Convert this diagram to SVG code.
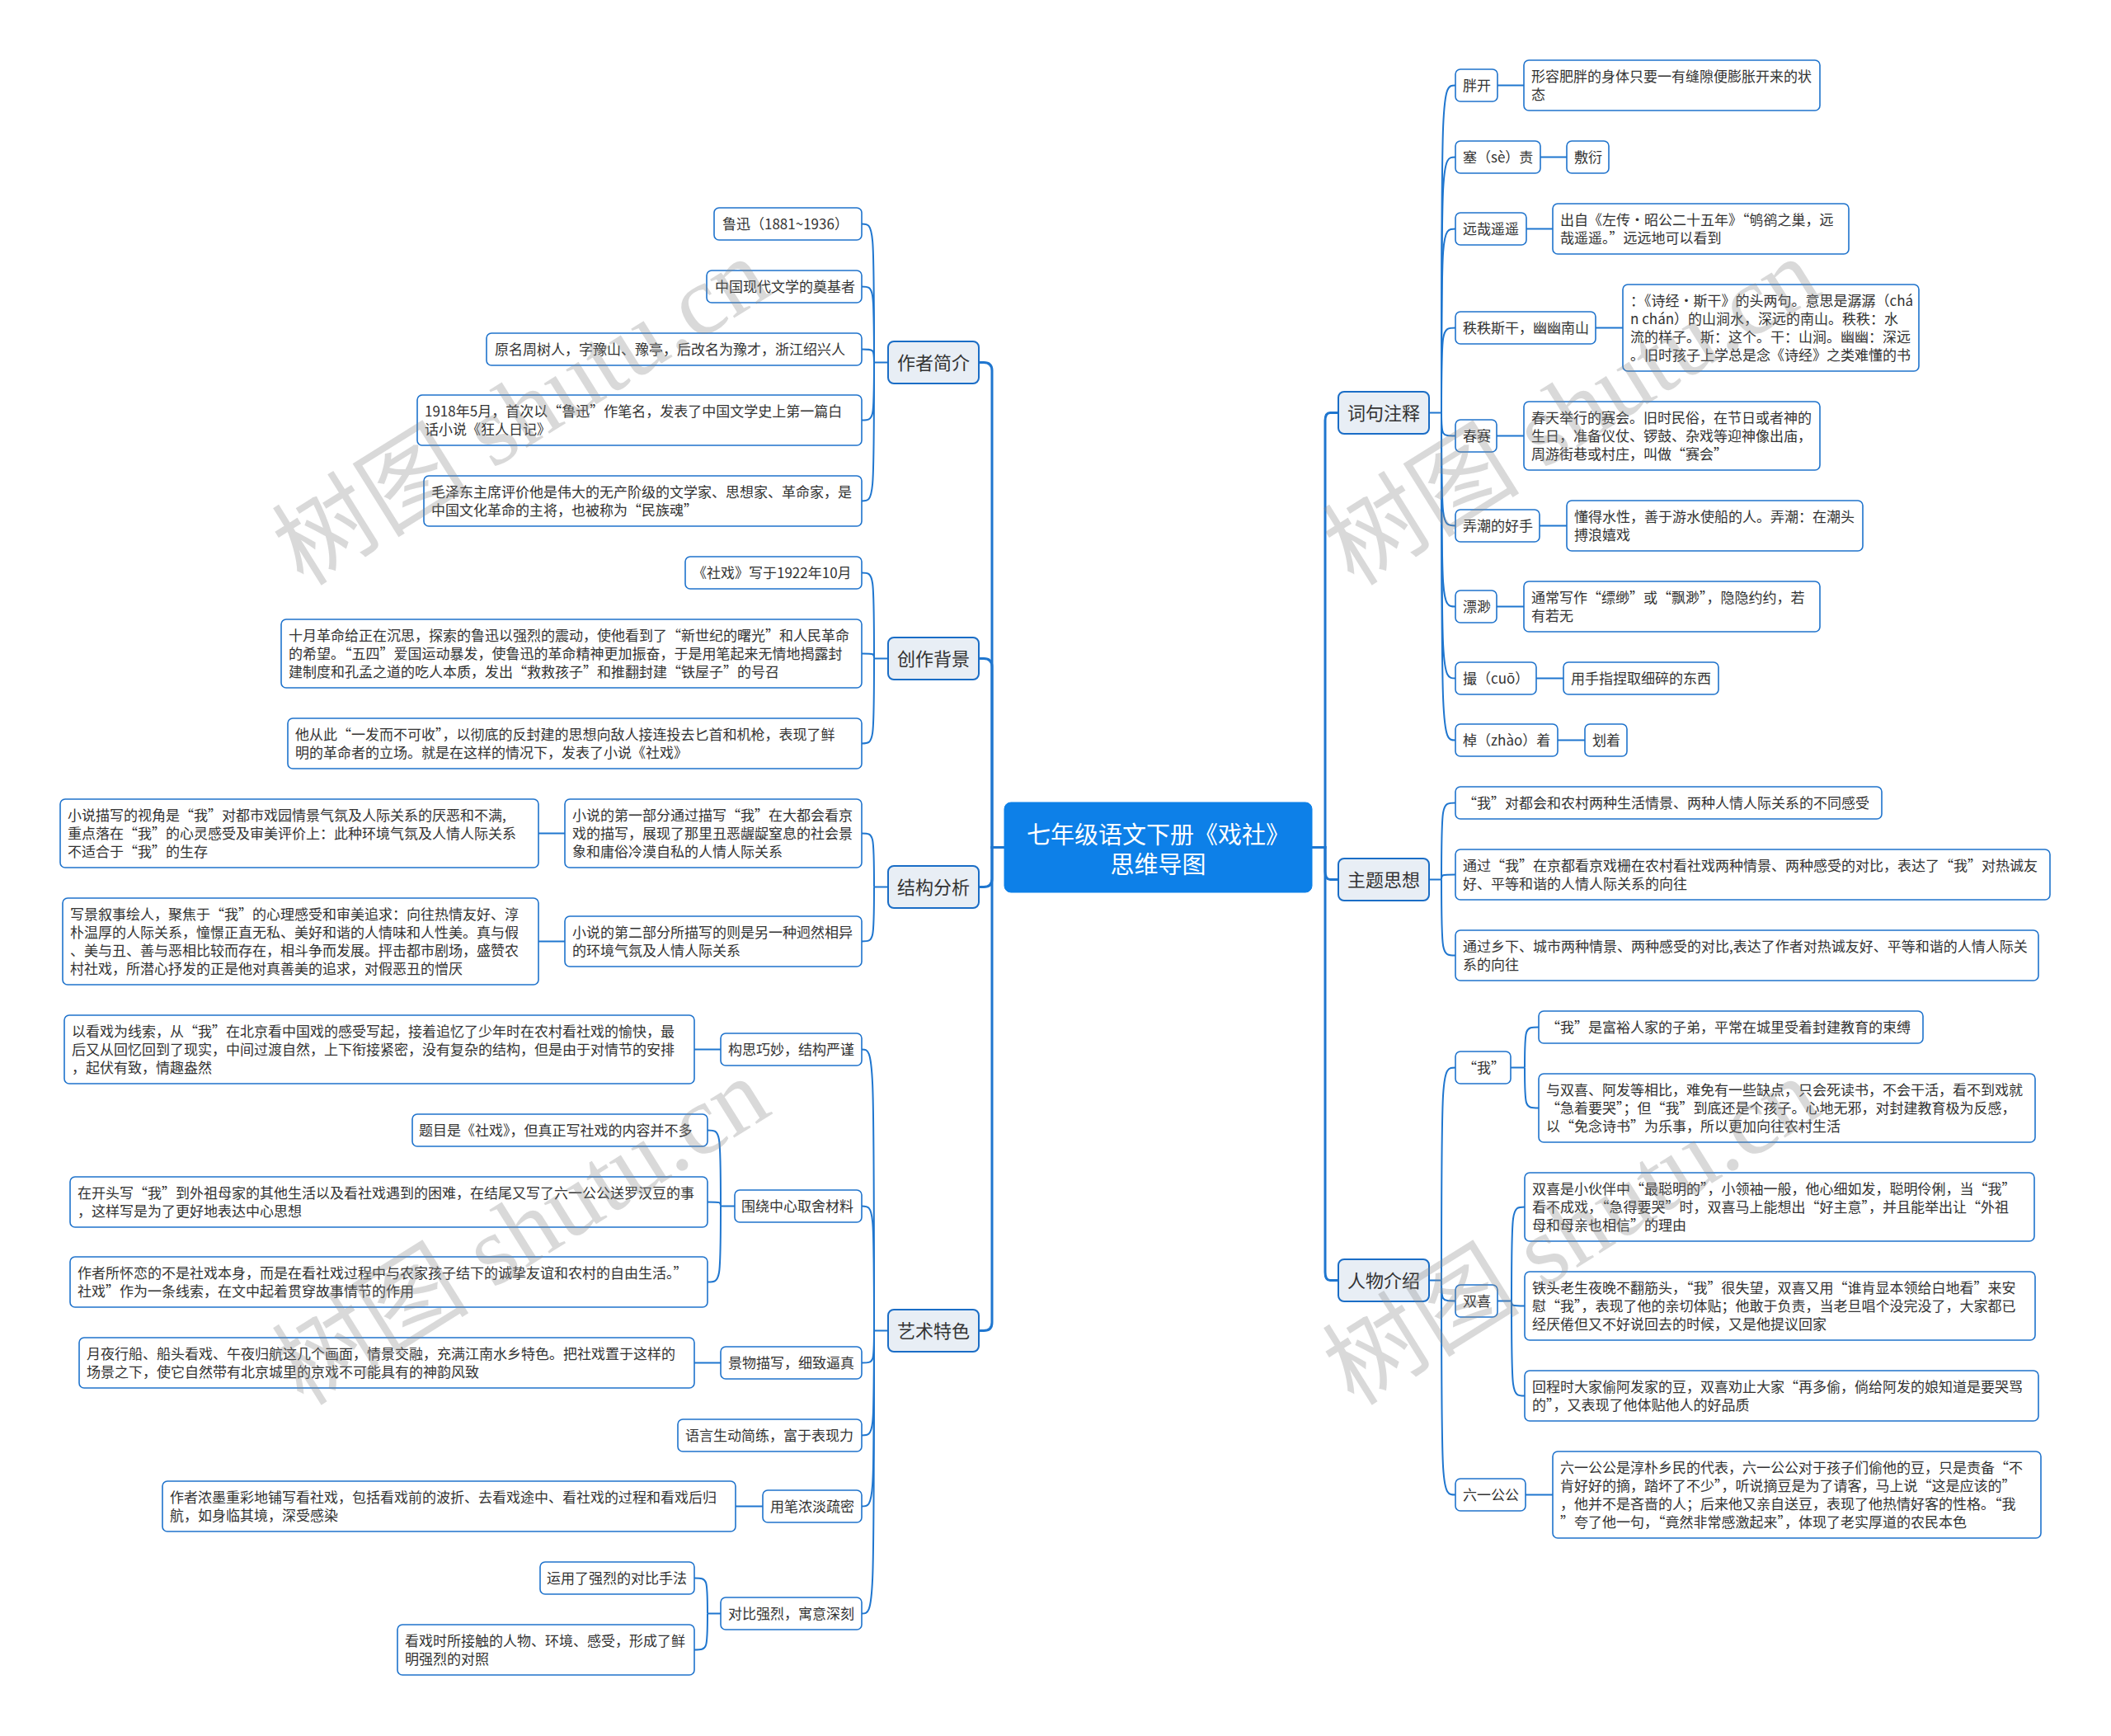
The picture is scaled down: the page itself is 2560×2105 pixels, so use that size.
<svg xmlns="http://www.w3.org/2000/svg" width="2560" height="2105" viewBox="0 0 2560 2105">
<style>
.m{fill:#E8EEF5;stroke:#1A6DC6;stroke-width:2}
.c{fill:#fff;stroke:#1F73CC;stroke-width:1.6}
.ctr{fill:#0D80E8;stroke:#0D80E8;stroke-width:1}
.t{font-family:"Noto Sans CJK SC","Noto Sans",sans-serif;font-size:17px;fill:#333}
.tm{font-family:"Noto Sans CJK SC","Noto Sans",sans-serif;font-size:22px;fill:#333;text-anchor:middle}
.tc{font-family:"Noto Sans CJK SC","Noto Sans",sans-serif;font-size:29px;fill:#fff;text-anchor:middle}
.k{fill:none;stroke:#1F76CF;stroke-width:2}
.K{fill:none;stroke:#1F76CF;stroke-width:3}
.wm{font-family:"Liberation Serif","Noto Sans CJK SC",serif;font-size:120px;fill:#888;fill-opacity:0.32}
</style>
<rect x="0" y="0" width="2560" height="2105" fill="#fff"/>
<g id="connectors">
<path class="K" d="M1218,1027.5 H1203 V449.5 Q1203,439.5 1193,439.5 H1187"/>
<path class="K" d="M1218,1027.5 H1203 V808.5 Q1203,798.5 1193,798.5 H1187"/>
<path class="K" d="M1218,1027.5 H1203 V1065.5 Q1203,1075.5 1193,1075.5 H1187"/>
<path class="K" d="M1218,1027.5 H1203 V1603.5 Q1203,1613.5 1193,1613.5 H1187"/>
<path class="K" d="M1591,1027.5 H1607 V510.5 Q1607,500.5 1613,500.5 H1623"/>
<path class="K" d="M1591,1027.5 H1607 V1056.5 Q1607,1066.5 1613,1066.5 H1623"/>
<path class="K" d="M1591,1027.5 H1607 V1542.5 Q1607,1552.5 1613,1552.5 H1623"/>
<path class="k" d="M1077,439.5 H1060"/>
<path class="k" d="M1060,439.5 C1060,271.5 1060,271.5 1045,271.5"/>
<path class="k" d="M1060,439.5 C1060,347.5 1060,347.5 1045,347.5"/>
<path class="k" d="M1060,439.5 C1060,423.5 1060,423.5 1045,423.5"/>
<path class="k" d="M1060,439.5 C1060,509.5 1060,509.5 1045,509.5"/>
<path class="k" d="M1060,439.5 C1060,607.5 1060,607.5 1045,607.5"/>
<path class="k" d="M1077,798.5 H1060"/>
<path class="k" d="M1060,798.5 C1060,694.5 1060,694.5 1045,694.5"/>
<path class="k" d="M1060,798.5 C1060,792.5 1060,792.5 1045,792.5"/>
<path class="k" d="M1060,798.5 C1060,901.5 1060,901.5 1045,901.5"/>
<path class="k" d="M1077,1075.5 H1060"/>
<path class="k" d="M1060,1075.5 C1060,1010.5 1060,1010.5 1045,1010.5"/>
<path class="k" d="M1060,1075.5 C1060,1141.5 1060,1141.5 1045,1141.5"/>
<path class="k" d="M685,1010.5 H653"/>
<path class="k" d="M685,1141.5 H653"/>
<path class="k" d="M1077,1613.5 H1060"/>
<path class="k" d="M1060,1613.5 C1060,1272.5 1060,1272.5 1045,1272.5"/>
<path class="k" d="M1060,1613.5 C1060,1462.5 1060,1462.5 1045,1462.5"/>
<path class="k" d="M1060,1613.5 C1060,1652.5 1060,1652.5 1045,1652.5"/>
<path class="k" d="M1060,1613.5 C1060,1740.5 1060,1740.5 1045,1740.5"/>
<path class="k" d="M1060,1613.5 C1060,1826.5 1060,1826.5 1045,1826.5"/>
<path class="k" d="M1060,1613.5 C1060,1956.5 1060,1956.5 1045,1956.5"/>
<path class="k" d="M874,1272.5 H842"/>
<path class="k" d="M891,1462.5 H874"/>
<path class="k" d="M874,1462.5 C874,1370.5 874,1370.5 858,1370.5"/>
<path class="k" d="M874,1462.5 C874,1457.5 874,1457.5 858,1457.5"/>
<path class="k" d="M874,1462.5 C874,1554.5 874,1554.5 858,1554.5"/>
<path class="k" d="M874,1652.5 H842"/>
<path class="k" d="M925,1826.5 H892"/>
<path class="k" d="M874,1956.5 H858"/>
<path class="k" d="M858,1956.5 C858,1913.5 858,1913.5 842,1913.5"/>
<path class="k" d="M858,1956.5 C858,2000.5 858,2000.5 842,2000.5"/>
<path class="k" d="M1733,500.5 H1748"/>
<path class="k" d="M1748,500.5 C1748,103.5 1748,103.5 1765,103.5"/>
<path class="k" d="M1748,500.5 C1748,190.5 1748,190.5 1765,190.5"/>
<path class="k" d="M1748,500.5 C1748,277.5 1748,277.5 1765,277.5"/>
<path class="k" d="M1748,500.5 C1748,397.5 1748,397.5 1765,397.5"/>
<path class="k" d="M1748,500.5 C1748,528.5 1748,528.5 1765,528.5"/>
<path class="k" d="M1748,500.5 C1748,637.5 1748,637.5 1765,637.5"/>
<path class="k" d="M1748,500.5 C1748,735.5 1748,735.5 1765,735.5"/>
<path class="k" d="M1748,500.5 C1748,822.5 1748,822.5 1765,822.5"/>
<path class="k" d="M1748,500.5 C1748,897.5 1748,897.5 1765,897.5"/>
<path class="k" d="M1816,103.5 H1848"/>
<path class="k" d="M1868,190.5 H1900"/>
<path class="k" d="M1851,277.5 H1883"/>
<path class="k" d="M1935,397.5 H1968"/>
<path class="k" d="M1815,528.5 H1848"/>
<path class="k" d="M1867,637.5 H1900"/>
<path class="k" d="M1815,735.5 H1848"/>
<path class="k" d="M1863,822.5 H1896"/>
<path class="k" d="M1889,897.5 H1922"/>
<path class="k" d="M1733,1066.5 H1748"/>
<path class="k" d="M1748,1066.5 C1748,973.5 1748,973.5 1765,973.5"/>
<path class="k" d="M1748,1066.5 C1748,1060.5 1748,1060.5 1765,1060.5"/>
<path class="k" d="M1748,1066.5 C1748,1158.5 1748,1158.5 1765,1158.5"/>
<path class="k" d="M1733,1552.5 H1748"/>
<path class="k" d="M1748,1552.5 C1748,1294.5 1748,1294.5 1765,1294.5"/>
<path class="k" d="M1748,1552.5 C1748,1577.5 1748,1577.5 1765,1577.5"/>
<path class="k" d="M1748,1552.5 C1748,1812.5 1748,1812.5 1765,1812.5"/>
<path class="k" d="M1832,1294.5 H1849"/>
<path class="k" d="M1849,1294.5 C1849,1245.5 1849,1245.5 1866,1245.5"/>
<path class="k" d="M1849,1294.5 C1849,1343.5 1849,1343.5 1866,1343.5"/>
<path class="k" d="M1816,1577.5 H1833"/>
<path class="k" d="M1833,1577.5 C1833,1463.5 1833,1463.5 1849,1463.5"/>
<path class="k" d="M1833,1577.5 C1833,1583.5 1833,1583.5 1849,1583.5"/>
<path class="k" d="M1833,1577.5 C1833,1692.5 1833,1692.5 1849,1692.5"/>
<path class="k" d="M1850,1812.5 H1883"/>
</g>

<g id="center"><rect class="ctr" x="1218" y="973" width="373" height="109" rx="8"/>
<text class="tc" x="1404.5" y="1023">七年级语文下册《戏社》</text><text class="tc" x="1404.5" y="1059">思维导图</text></g>

<g id="zzjj"><rect class="m" x="1077" y="414" width="110" height="51" rx="7"/><text class="tm" x="1132" y="447.5">作者简介</text></g>
<g id="zz1"><rect class="c" x="866" y="252" width="179" height="39" rx="6"/><text class="t" x="876" y="277.5">鲁迅（1881~1936）</text></g>
<g id="zz2"><rect class="c" x="857" y="328" width="188" height="39" rx="6"/><text class="t" x="867" y="353.5">中国现代文学的奠基者</text></g>
<g id="zz3"><rect class="c" x="590" y="404" width="455" height="39" rx="6"/><text class="t" x="600" y="429.5">原名周树人，字豫山、豫亭，后改名为豫才，浙江绍兴人</text></g>
<g id="zz4"><rect class="c" x="506" y="479" width="539" height="61" rx="6"/><text class="t" x="515" y="504.5"><tspan x="515">1918年5月，首次以“鲁迅”作笔名，发表了中国文学史上第一篇白</tspan><tspan x="515" dy="22">话小说《狂人日记》</tspan></text></g>
<g id="zz5"><rect class="c" x="514" y="577" width="531" height="61" rx="6"/><text class="t" x="523" y="602.5"><tspan x="523">毛泽东主席评价他是伟大的无产阶级的文学家、思想家、革命家，是</tspan><tspan x="523" dy="22">中国文化革命的主将，也被称为“民族魂”</tspan></text></g>

<g id="czbj"><rect class="m" x="1077" y="773" width="110" height="51" rx="7"/><text class="tm" x="1132" y="806.5">创作背景</text></g>
<g id="cz1"><rect class="c" x="831" y="675" width="214" height="39" rx="6"/><text class="t" x="840" y="700.5">《社戏》写于1922年10月</text></g>
<g id="cz2"><rect class="c" x="341" y="751" width="704" height="83" rx="6"/><text class="t" x="350" y="776.5"><tspan x="350">十月革命给正在沉思，探索的鲁迅以强烈的震动，使他看到了“新世纪的曙光”和人民革命</tspan><tspan x="350" dy="22">的希望。“五四”爱国运动暴发，使鲁迅的革命精神更加振奋，于是用笔起来无情地揭露封</tspan><tspan x="350" dy="22">建制度和孔孟之道的吃人本质，发出“救救孩子”和推翻封建“铁屋子”的号召</tspan></text></g>
<g id="cz3"><rect class="c" x="349" y="871" width="696" height="61" rx="6"/><text class="t" x="358" y="896.5"><tspan x="358">他从此“一发而不可收”，以彻底的反封建的思想向敌人接连投去匕首和机枪，表现了鲜</tspan><tspan x="358" dy="22">明的革命者的立场。就是在这样的情况下，发表了小说《社戏》</tspan></text></g>

<g id="jgfx"><rect class="m" x="1077" y="1050" width="110" height="51" rx="7"/><text class="tm" x="1132" y="1083.5">结构分析</text></g>
<g id="jg1"><rect class="c" x="685" y="969" width="360" height="83" rx="6"/><text class="t" x="694" y="994.5"><tspan x="694">小说的第一部分通过描写“我”在大都会看京</tspan><tspan x="694" dy="22">戏的描写，展现了那里丑恶龌龊窒息的社会景</tspan><tspan x="694" dy="22">象和庸俗冷漠自私的人情人际关系</tspan></text></g>
<g id="jg1a"><rect class="c" x="73" y="969" width="580" height="83" rx="6"/><text class="t" x="82" y="994.5"><tspan x="82">小说描写的视角是“我”对都市戏园情景气氛及人际关系的厌恶和不满,</tspan><tspan x="82" dy="22">重点落在“我”的心灵感受及审美评价上：此种环境气氛及人情人际关系</tspan><tspan x="82" dy="22">不适合于“我”的生存</tspan></text></g>
<g id="jg2"><rect class="c" x="685" y="1111" width="360" height="61" rx="6"/><text class="t" x="694" y="1136.5"><tspan x="694">小说的第二部分所描写的则是另一种迥然相异</tspan><tspan x="694" dy="22">的环境气氛及人情人际关系</tspan></text></g>
<g id="jg2a"><rect class="c" x="76" y="1089" width="577" height="105" rx="6"/><text class="t" x="85" y="1114.5"><tspan x="85">写景叙事绘人，聚焦于“我”的心理感受和审美追求：向往热情友好、淳</tspan><tspan x="85" dy="22">朴温厚的人际关系，憧憬正直无私、美好和谐的人情味和人性美。真与假</tspan><tspan x="85" dy="22">、美与丑、善与恶相比较而存在，相斗争而发展。抨击都市剧场，盛赞农</tspan><tspan x="85" dy="22">村社戏，所潜心抒发的正是他对真善美的追求，对假恶丑的憎厌</tspan></text></g>

<g id="ystс"><rect class="m" x="1077" y="1588" width="110" height="51" rx="7"/><text class="tm" x="1132" y="1621.5">艺术特色</text></g>
<g id="ys1"><rect class="c" x="874" y="1253" width="171" height="39" rx="6"/><text class="t" x="883" y="1278.5">构思巧妙，结构严谨</text></g>
<g id="ys1a"><rect class="c" x="78" y="1231" width="764" height="83" rx="6"/><text class="t" x="87" y="1256.5"><tspan x="87">以看戏为线索，从“我”在北京看中国戏的感受写起，接着追忆了少年时在农村看社戏的愉快，最</tspan><tspan x="87" dy="22">后又从回忆回到了现实，中间过渡自然，上下衔接紧密，没有复杂的结构，但是由于对情节的安排</tspan><tspan x="87" dy="22">，起伏有致，情趣盎然</tspan></text></g>
<g id="ys2"><rect class="c" x="891" y="1443" width="154" height="39" rx="6"/><text class="t" x="899" y="1468.5">围绕中心取舍材料</text></g>
<g id="ys2a"><rect class="c" x="500" y="1351" width="358" height="39" rx="6"/><text class="t" x="508" y="1376.5">题目是《社戏》，但真正写社戏的内容并不多</text></g>
<g id="ys2b"><rect class="c" x="85" y="1427" width="773" height="61" rx="6"/><text class="t" x="94" y="1452.5"><tspan x="94">在开头写“我”到外祖母家的其他生活以及看社戏遇到的困难，在结尾又写了六一公公送罗汉豆的事</tspan><tspan x="94" dy="22">，这样写是为了更好地表达中心思想</tspan></text></g>
<g id="ys2c"><rect class="c" x="85" y="1524" width="773" height="61" rx="6"/><text class="t" x="94" y="1549.5"><tspan x="94">作者所怀恋的不是社戏本身，而是在看社戏过程中与农家孩子结下的诚挚友谊和农村的自由生活。”</tspan><tspan x="94" dy="22">社戏”作为一条线索，在文中起着贯穿故事情节的作用</tspan></text></g>
<g id="ys3"><rect class="c" x="874" y="1633" width="171" height="39" rx="6"/><text class="t" x="883" y="1658.5">景物描写，细致逼真</text></g>
<g id="ys3a"><rect class="c" x="96" y="1622" width="746" height="61" rx="6"/><text class="t" x="105" y="1647.5"><tspan x="105">月夜行船、船头看戏、午夜归航这几个画面，情景交融，充满江南水乡特色。把社戏置于这样的</tspan><tspan x="105" dy="22">场景之下，使它自然带有北京城里的京戏不可能具有的神韵风致</tspan></text></g>
<g id="ys4"><rect class="c" x="822" y="1721" width="223" height="39" rx="6"/><text class="t" x="831" y="1746.5">语言生动简练，富于表现力</text></g>
<g id="ys5"><rect class="c" x="925" y="1807" width="120" height="39" rx="6"/><text class="t" x="934" y="1832.5">用笔浓淡疏密</text></g>
<g id="ys5a"><rect class="c" x="197" y="1796" width="695" height="61" rx="6"/><text class="t" x="206" y="1821.5"><tspan x="206">作者浓墨重彩地铺写看社戏，包括看戏前的波折、去看戏途中、看社戏的过程和看戏后归</tspan><tspan x="206" dy="22">航，如身临其境，深受感染</tspan></text></g>
<g id="ys6"><rect class="c" x="874" y="1937" width="171" height="39" rx="6"/><text class="t" x="883" y="1962.5">对比强烈，寓意深刻</text></g>
<g id="ys6a"><rect class="c" x="655" y="1894" width="187" height="39" rx="6"/><text class="t" x="663" y="1919.5">运用了强烈的对比手法</text></g>
<g id="ys6b"><rect class="c" x="482" y="1970" width="360" height="61" rx="6"/><text class="t" x="491" y="1995.5"><tspan x="491">看戏时所接触的人物、环境、感受，形成了鲜</tspan><tspan x="491" dy="22">明强烈的对照</tspan></text></g>

<g id="cjzs"><rect class="m" x="1623" y="475" width="110" height="51" rx="7"/><text class="tm" x="1678" y="508.5">词句注释</text></g>
<g id="cj1"><rect class="c" x="1765" y="84" width="51" height="39" rx="6"/><text class="t" x="1774" y="109.5">胖开</text></g>
<g id="cj1a"><rect class="c" x="1848" y="73" width="359" height="61" rx="6"/><text class="t" x="1857" y="98.5"><tspan x="1857">形容肥胖的身体只要一有缝隙便膨胀开来的状</tspan><tspan x="1857" dy="22">态</tspan></text></g>
<g id="cj2"><rect class="c" x="1765" y="171" width="103" height="39" rx="6"/><text class="t" x="1774" y="196.5">塞（sè）责</text></g>
<g id="cj2a"><rect class="c" x="1900" y="171" width="51" height="39" rx="6"/><text class="t" x="1909" y="196.5">敷衍</text></g>
<g id="cj3"><rect class="c" x="1765" y="258" width="86" height="39" rx="6"/><text class="t" x="1774" y="283.5">远哉遥遥</text></g>
<g id="cj3a"><rect class="c" x="1883" y="247" width="359" height="61" rx="6"/><text class="t" x="1892" y="272.5"><tspan x="1892">出自《左传·昭公二十五年》“鸲鹆之巢，远</tspan><tspan x="1892" dy="22">哉遥遥。”远远地可以看到</tspan></text></g>
<g id="cj4"><rect class="c" x="1765" y="378" width="170" height="39" rx="6"/><text class="t" x="1774" y="403.5">秩秩斯干，幽幽南山</text></g>
<g id="cj4a"><rect class="c" x="1968" y="345" width="359" height="105" rx="6"/><text class="t" x="1977" y="370.5"><tspan x="1977">：《诗经·斯干》的头两句。意思是潺潺（chá</tspan><tspan x="1977" dy="22">n chán）的山涧水，深远的南山。秩秩：水</tspan><tspan x="1977" dy="22">流的样子。斯：这个。干：山涧。幽幽：深远</tspan><tspan x="1977" dy="22">。旧时孩子上学总是念《诗经》之类难懂的书</tspan></text></g>
<g id="cj5"><rect class="c" x="1765" y="509" width="50" height="39" rx="6"/><text class="t" x="1774" y="534.5">春赛</text></g>
<g id="cj5a"><rect class="c" x="1848" y="487" width="359" height="83" rx="6"/><text class="t" x="1857" y="512.5"><tspan x="1857">春天举行的赛会。旧时民俗，在节日或者神的</tspan><tspan x="1857" dy="22">生日，准备仪仗、锣鼓、杂戏等迎神像出庙，</tspan><tspan x="1857" dy="22">周游街巷或村庄，叫做“赛会”</tspan></text></g>
<g id="cj6"><rect class="c" x="1765" y="618" width="102" height="39" rx="6"/><text class="t" x="1774" y="643.5">弄潮的好手</text></g>
<g id="cj6a"><rect class="c" x="1900" y="607" width="359" height="61" rx="6"/><text class="t" x="1909" y="632.5"><tspan x="1909">懂得水性，善于游水使船的人。弄潮：在潮头</tspan><tspan x="1909" dy="22">搏浪嬉戏</tspan></text></g>
<g id="cj7"><rect class="c" x="1765" y="716" width="50" height="39" rx="6"/><text class="t" x="1774" y="741.5">漂渺</text></g>
<g id="cj7a"><rect class="c" x="1848" y="705" width="359" height="61" rx="6"/><text class="t" x="1857" y="730.5"><tspan x="1857">通常写作“缥缈”或“飘渺”，隐隐约约，若</tspan><tspan x="1857" dy="22">有若无</tspan></text></g>
<g id="cj8"><rect class="c" x="1765" y="803" width="98" height="39" rx="6"/><text class="t" x="1774" y="828.5">撮（cuō）</text></g>
<g id="cj8a"><rect class="c" x="1896" y="803" width="188" height="39" rx="6"/><text class="t" x="1905" y="828.5">用手指捏取细碎的东西</text></g>
<g id="cj9"><rect class="c" x="1765" y="878" width="124" height="39" rx="6"/><text class="t" x="1774" y="903.5">棹（zhào）着</text></g>
<g id="cj9a"><rect class="c" x="1922" y="878" width="51" height="39" rx="6"/><text class="t" x="1931" y="903.5">划着</text></g>

<g id="ztsx"><rect class="m" x="1623" y="1041" width="110" height="51" rx="7"/><text class="tm" x="1678" y="1074.5">主题思想</text></g>
<g id="zt1"><rect class="c" x="1765" y="954" width="517" height="39" rx="6"/><text class="t" x="1774" y="979.5">“我”对都会和农村两种生活情景、两种人情人际关系的不同感受</text></g>
<g id="zt2"><rect class="c" x="1765" y="1030" width="721" height="61" rx="6"/><text class="t" x="1774" y="1055.5"><tspan x="1774">通过“我”在京都看京戏栅在农村看社戏两种情景、两种感受的对比，表达了“我”对热诚友</tspan><tspan x="1774" dy="22">好、平等和谐的人情人际关系的向往</tspan></text></g>
<g id="zt3"><rect class="c" x="1765" y="1128" width="707" height="61" rx="6"/><text class="t" x="1774" y="1153.5"><tspan x="1774">通过乡下、城市两种情景、两种感受的对比,表达了作者对热诚友好、平等和谐的人情人际关</tspan><tspan x="1774" dy="22">系的向往</tspan></text></g>

<g id="rwjs"><rect class="m" x="1623" y="1527" width="110" height="51" rx="7"/><text class="tm" x="1678" y="1560.5">人物介绍</text></g>
<g id="rw1"><rect class="c" x="1765" y="1275" width="67" height="39" rx="6"/><text class="t" x="1774" y="1300.5">“我”</text></g>
<g id="rw1a"><rect class="c" x="1866" y="1226" width="466" height="39" rx="6"/><text class="t" x="1875" y="1251.5">“我”是富裕人家的子弟，平常在城里受着封建教育的束缚</text></g>
<g id="rw1b"><rect class="c" x="1866" y="1302" width="602" height="83" rx="6"/><text class="t" x="1875" y="1327.5"><tspan x="1875">与双喜、阿发等相比，难免有一些缺点，只会死读书，不会干活，看不到戏就</tspan><tspan x="1875" dy="22">“急着要哭”；但“我”到底还是个孩子。心地无邪，对封建教育极为反感，</tspan><tspan x="1875" dy="22">以“免念诗书”为乐事，所以更加向往农村生活</tspan></text></g>
<g id="rw2"><rect class="c" x="1765" y="1558" width="51" height="39" rx="6"/><text class="t" x="1774" y="1583.5">双喜</text></g>
<g id="rw2a"><rect class="c" x="1849" y="1422" width="618" height="83" rx="6"/><text class="t" x="1858" y="1447.5"><tspan x="1858">双喜是小伙伴中“最聪明的”，小领袖一般，他心细如发，聪明伶俐，当“我”</tspan><tspan x="1858" dy="22">看不成戏，“急得要哭”时，双喜马上能想出“好主意”，并且能举出让“外祖</tspan><tspan x="1858" dy="22">母和母亲也相信”的理由</tspan></text></g>
<g id="rw2b"><rect class="c" x="1849" y="1542" width="619" height="83" rx="6"/><text class="t" x="1858" y="1567.5"><tspan x="1858">铁头老生夜晚不翻筋头，“我”很失望，双喜又用“谁肯显本领给白地看”来安</tspan><tspan x="1858" dy="22">慰“我”，表现了他的亲切体贴；他敢于负责，当老旦唱个没完没了，大家都已</tspan><tspan x="1858" dy="22">经厌倦但又不好说回去的时候，又是他提议回家</tspan></text></g>
<g id="rw2c"><rect class="c" x="1849" y="1662" width="623" height="61" rx="6"/><text class="t" x="1858" y="1687.5"><tspan x="1858">回程时大家偷阿发家的豆，双喜劝止大家“再多偷，倘给阿发的娘知道是要哭骂</tspan><tspan x="1858" dy="22">的”，又表现了他体贴他人的好品质</tspan></text></g>
<g id="rw3"><rect class="c" x="1765" y="1793" width="85" height="39" rx="6"/><text class="t" x="1774" y="1818.5">六一公公</text></g>
<g id="rw3a"><rect class="c" x="1883" y="1760" width="592" height="105" rx="6"/><text class="t" x="1892" y="1785.5"><tspan x="1892">六一公公是淳朴乡民的代表，六一公公对于孩子们偷他的豆，只是责备“不</tspan><tspan x="1892" dy="22">肯好好的摘，踏坏了不少”，听说摘豆是为了请客，马上说“这是应该的”</tspan><tspan x="1892" dy="22">，他并不是吝啬的人；后来他又亲自送豆，表现了他热情好客的性格。“我</tspan><tspan x="1892" dy="22">”夸了他一句，“竟然非常感激起来”，体现了老实厚道的农民本色</tspan></text></g>

<g id="watermarks">
<text class="wm" transform="translate(368,712) rotate(-32)">树图 shutu.cn</text>
<text class="wm" transform="translate(368,1706) rotate(-32)">树图 shutu.cn</text>
<text class="wm" transform="translate(1642,712) rotate(-32)">树图 shutu.cn</text>
<text class="wm" transform="translate(1642,1706) rotate(-32)">树图 shutu.cn</text>
</g>
</svg>
